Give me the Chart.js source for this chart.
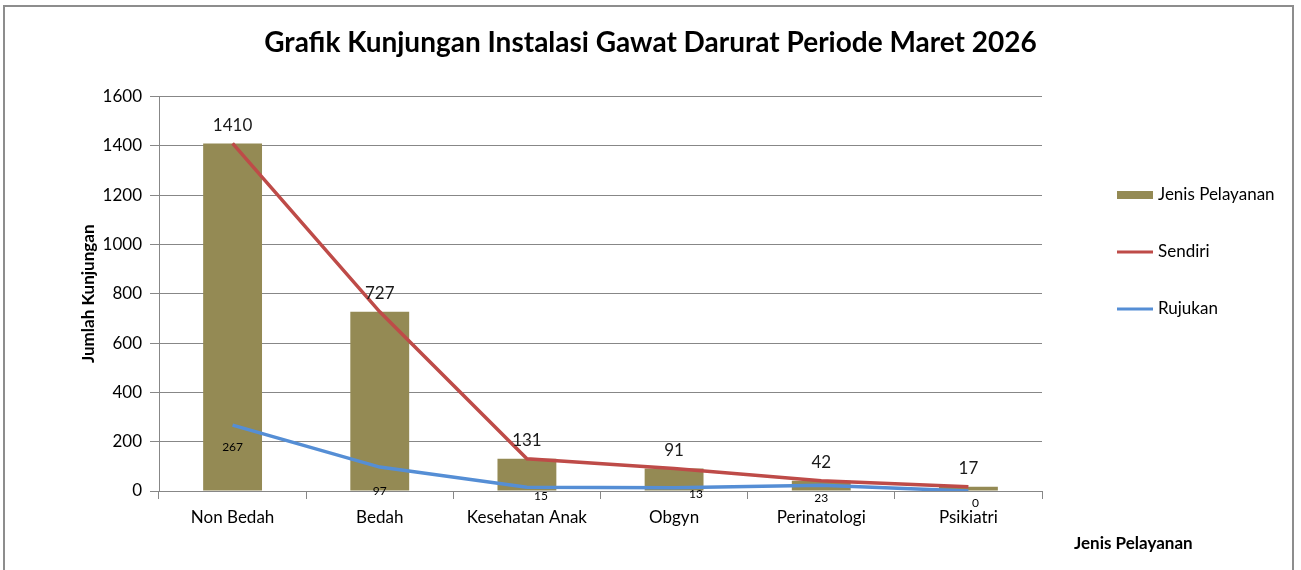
<!DOCTYPE html>
<html>
<head>
<meta charset="utf-8">
<script src="https://cdn.jsdelivr.net/npm/chart.js@4.4.1/dist/chart.umd.min.js"></script>
<style>
  body { margin: 0; background: #fff; }
  #wrap { position: relative; width: 1301px; height: 570px; overflow: hidden; }
  #frame { position: absolute; left: 3px; top: 5px; width: 1291px; height: 620px; border: 2px solid #8d8d8d; box-sizing: border-box; }
  canvas { position: absolute; left: 0; top: 0; }
</style>
</head>
<body>
<div id="wrap">
  <div id="frame"></div>
  <canvas id="chart" width="1301" height="570"></canvas>
</div>
<script>
const categories = ['Non Bedah', 'Bedah', 'Kesehatan Anak', 'Obgyn', 'Perinatologi', 'Psikiatri'];
const jenisPelayanan = [1410, 727, 131, 91, 42, 17];
const sendiri = [1410, 727, 131, 91, 42, 17];
const rujukan = [267, 97, 15, 13, 23, 0];
const yTicks = [0, 200, 400, 600, 800, 1000, 1200, 1400, 1600];

// small nudges for the Rujukan labels (dx, dy from the point)
const rujukanLabelShift = [[0, 22], [0, 24], [14, 9], [22, 6], [0, 13], [7, 12]];

const fontName = 'Lato, "Noto Sans", sans-serif';

const labelPlugin = {
  id: 'labels',
  afterDatasetsDraw(chart) {
    const ctx = chart.ctx;
    ctx.save();
    ctx.textAlign = 'center';
    ctx.textBaseline = 'middle';

    // bar values above the bars
    ctx.font = '17px ' + fontName;
    ctx.fillStyle = '#1a1a1a';
    chart.getDatasetMeta(0).data.forEach((bar, i) => {
      ctx.fillText(String(jenisPelayanan[i]), bar.x, bar.y - 18);
    });

    // rujukan values below the line
    ctx.font = '12px ' + fontName;
    ctx.fillStyle = '#000';
    chart.getDatasetMeta(2).data.forEach((pt, i) => {
      const s = rujukanLabelShift[i];
      ctx.fillText(String(rujukan[i]), pt.x + s[0], pt.y + s[1]);
    });

    // legend on the right
    ctx.textAlign = 'left';
    const lx = 1117, ys = [195, 252, 309];
    ctx.fillStyle = chart.data.datasets[0].backgroundColor;
    ctx.fillRect(lx, ys[0] - 4, 36, 8);
    [1, 2].forEach(k => {
      ctx.strokeStyle = chart.data.datasets[k].borderColor;
      ctx.lineWidth = 3;
      ctx.beginPath();
      ctx.moveTo(lx, ys[k]);
      ctx.lineTo(lx + 36, ys[k]);
      ctx.stroke();
    });
    ctx.font = '17px ' + fontName;
    ctx.fillStyle = '#000';
    chart.data.datasets.forEach((ds, k) => {
      ctx.fillText(ds.label, lx + 41, ys[k]);
    });

    // x axis title at bottom right
    ctx.font = 'bold 17px ' + fontName;
    ctx.fillText('Jenis Pelayanan', 1074, 544);
    ctx.restore();
  }
};

new Chart(document.getElementById('chart'), {
  type: 'bar',
  data: {
    labels: categories,
    datasets: [
      {
        type: 'bar',
        label: 'Jenis Pelayanan',
        data: jenisPelayanan,
        backgroundColor: '#948a54',
        barPercentage: 0.4,
        categoryPercentage: 1,
        order: 3
      },
      {
        type: 'line',
        label: 'Sendiri',
        data: sendiri,
        borderColor: '#be4b48',
        borderWidth: 3.5,
        pointRadius: 0,
        tension: 0,
        order: 2
      },
      {
        type: 'line',
        label: 'Rujukan',
        data: rujukan,
        borderColor: '#558ed5',
        borderWidth: 3.5,
        pointRadius: 0,
        tension: 0,
        order: 1
      }
    ]
  },
  options: {
    responsive: false,
    animation: false,
    layout: { padding: 0 },
    plugins: {
      legend: { display: false },
      tooltip: { enabled: false },
      title: {
        display: true,
        text: 'Grafik Kunjungan Instalasi Gawat Darurat Periode Maret 2026',
        font: { family: fontName, size: 28, weight: 'bold' },
        color: '#000',
        padding: { top: 26, bottom: 37 }
      }
    },
    scales: {
      x: {
        grid: { offset: true, drawOnChartArea: false, color: '#878787', tickLength: 8 },
        border: { color: '#878787' },
        ticks: { font: { family: fontName, size: 17 }, color: '#000', padding: 8, maxRotation: 0 },
        afterFit(scale) { scale.height = 79; }
      },
      y: {
        min: 0,
        max: 1600,
        afterBuildTicks(scale) { scale.ticks = yTicks.map(v => ({ value: v })); },
        grid: { color: '#878787', tickLength: 9 },
        border: { color: '#878787' },
        ticks: {
          font: { family: fontName, size: 17 },
          color: '#000',
          padding: 8,
          callback: v => String(v)
        },
        title: {
          display: true,
          text: 'Jumlah Kunjungan',
          font: { family: fontName, size: 17, weight: 'bold' },
          color: '#000',
          padding: { top: 78, bottom: 0 }
        },
        afterFit(scale) { scale.width = 159; }
      },
      // empty space on the right where the legend sits
      side: {
        position: 'right',
        display: true,
        min: 0,
        max: 1600,
        grid: { display: false, drawOnChartArea: false },
        border: { display: false },
        ticks: { display: false },
        afterFit(scale) { scale.width = 259; }
      }
    }
  },
  plugins: [labelPlugin]
});
</script>
</body>
</html>
